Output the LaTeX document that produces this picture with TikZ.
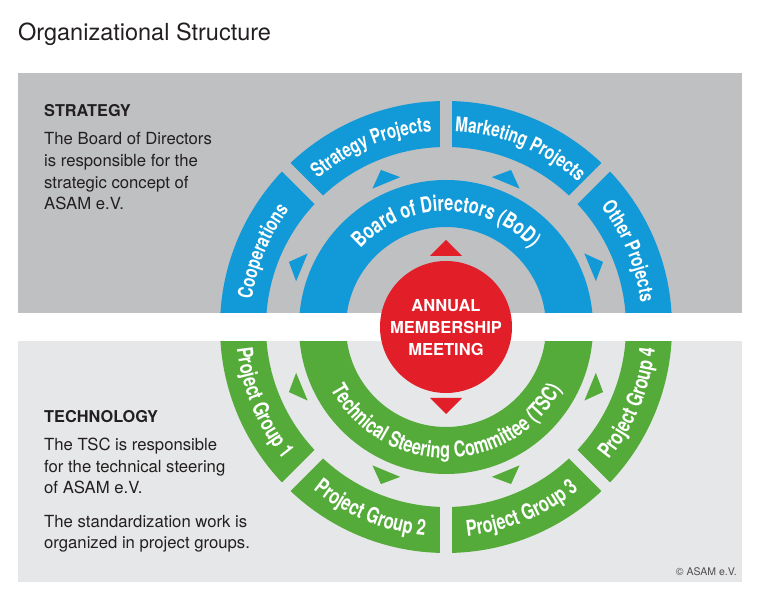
\documentclass[tikz,border=0pt]{standalone}
\usepackage{fontspec}
\setmainfont{TeX Gyre Heros}
\newfontfamily\arcfont[FakeStretch=0.75]{TeX Gyre Heros}
\usetikzlibrary{decorations.text}
\definecolor{asamblue}{RGB}{18,153,215}
\definecolor{asamgreen}{RGB}{84,171,57}
\definecolor{asamred}{RGB}{226,30,40}
\definecolor{stratgray}{RGB}{190,192,194}
\definecolor{techgray}{RGB}{230,231,232}
\definecolor{ink}{RGB}{35,31,32}

\begin{document}
\begin{tikzpicture}[
  x=1pt, y=1pt,
  every node/.style={inner sep=0pt, text=ink},
  head/.style={font=\bfseries\fontsize{16.3}{20}\selectfont, anchor=base west},
  body/.style={font=\fontsize{16.7}{21.7}\selectfont, align=left, anchor=base west},
  outertop/.style={decorate, decoration={text along path, text align=center,
    text color=white, text={|\arcfont\bfseries\fontsize{20.3}{20}\selectfont|#1}}},
  outerbot/.style={decorate, decoration={text along path, text align=center,
    text color=white, text={|\arcfont\bfseries\fontsize{21.8}{20}\selectfont|#1}}},
  innerarc/.style={decorate, decoration={text along path, text align=center,
    text color=white, text={|\arcfont\bfseries\fontsize{21.8}{20}\selectfont|#1}}}
]
\useasboundingbox (0,0) rectangle (761,600);

% Panels
\fill[stratgray] (18,287) rectangle (742,527);
\fill[techgray] (18,18) rectangle (742,259);

\coordinate (c) at (446,273);

\begin{scope}[shift={(c)}]
  % Rings
  \fill[asamblue] (0:180) -- (0:226) arc[start angle=0, end angle=180, radius=226]
    -- (180:180) arc[start angle=180, end angle=0, radius=180] -- cycle;
  \fill[asamblue] (0:100) -- (0:147) arc[start angle=0, end angle=180, radius=147]
    -- (180:100) arc[start angle=180, end angle=0, radius=100] -- cycle;
  \fill[asamgreen] (180:180) -- (180:226) arc[start angle=180, end angle=360, radius=226]
    -- (360:180) arc[start angle=360, end angle=180, radius=180] -- cycle;
  \fill[asamgreen] (180:100) -- (180:147) arc[start angle=180, end angle=360, radius=147]
    -- (360:100) arc[start angle=360, end angle=180, radius=100] -- cycle;

  % Gaps between the outer segments
  \foreach \a in {45,90,135}
    \fill[stratgray, rotate=\a] (172,-6) rectangle (234,6);
  \foreach \a in {225,270,315}
    \fill[techgray, rotate=\a] (172,-6) rectangle (234,6);
\end{scope}

% White band
\fill[white] (0,259) rectangle (761,287);

\begin{scope}[shift={(c)}]
  \fill[asamred] (0,0) circle[radius=66];

  % Triangles
  \foreach \a in {22.5,67.5,112.5,157.5}
    \fill[asamblue, rotate=\a] (156,-15) -- (170,0) -- (156,15) -- cycle;
  \foreach \a in {202.5,247.5,292.5,337.5}
    \fill[asamgreen, rotate=\a] (156,-15) -- (170,0) -- (156,15) -- cycle;
  \foreach \a in {90,270}
    \fill[asamred, rotate=\a] (71,-16) -- (87,0) -- (71,16) -- cycle;

  % Labels on the rings
  \path[outertop={Cooperations}] (180:196) arc[start angle=180, end angle=135, radius=196];
  \path[outertop={Strategy Projects}] (135:196) arc[start angle=135, end angle=90, radius=196];
  \path[outertop={Marketing Projects}] (90:196) arc[start angle=90, end angle=45, radius=196];
  \path[outertop={Other Projects}] (45:196) arc[start angle=45, end angle=0, radius=196];
  \path[innerarc={Board of Directors (BoD)}] (170:116) arc[start angle=170, end angle=10, radius=116];
  \path[outerbot={Project Group 1}] (180:210) arc[start angle=180, end angle=225, radius=210];
  \path[outerbot={Project Group 2}] (225:210) arc[start angle=225, end angle=270, radius=210];
  \path[outerbot={Project Group 3}] (270:210) arc[start angle=270, end angle=315, radius=210];
  \path[outerbot={Project Group 4}] (315:210) arc[start angle=315, end angle=360, radius=210];
  \path[innerarc={Technical Steering Committee (TSC)}] (190:131) arc[start angle=190, end angle=350, radius=131];
\end{scope}

% Multi-line nodes sit on their last baseline
\node[anchor=base, align=center, text=white,
  font=\bfseries\fontsize{16.5}{22}\selectfont] (amm) at (446,244)
  {ANNUAL\\MEMBERSHIP\\MEETING};

% Texts
\node[font=\fontsize{23.5}{28}\selectfont, anchor=base west] (title) at (18,559) {Organizational Structure};
\node[head] (strathead) at (44,483) {STRATEGY};
\node[body] (strattext) at (44,390) {The Board of Directors\\is responsible for the\\strategic concept of\\ASAM e.V.};
\node[head] (techhead) at (44,177) {TECHNOLOGY};
\node[body] (techtext) at (44,106) {The TSC is responsible\\for the technical steering\\of ASAM e.V.};
\node[body] (worktext) at (44,51) {The standardization work is\\organized in project groups.};
\node[font=\fontsize{10.5}{12}\selectfont, text=ink!80, anchor=base east] (copy) at (737,24) {© ASAM e.V.};
\end{tikzpicture}
\end{document}
